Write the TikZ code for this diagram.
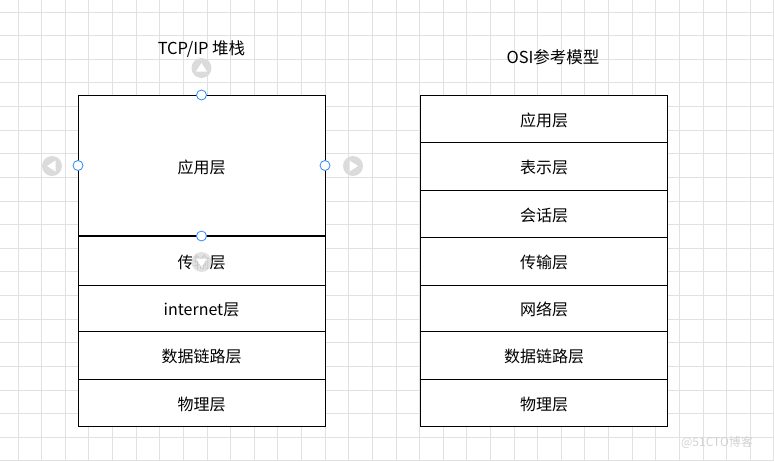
\documentclass[tikz,border=0pt]{standalone}
\usepackage{fontspec}
\setmainfont{Noto Sans CJK SC}
\usetikzlibrary{positioning, calc}
\definecolor{HandleBlue}{RGB}{41,137,255}
\definecolor{GridGray}{RGB}{225,225,225}

\begin{document}
\begin{tikzpicture}[x=1pt, y=-1pt,
	layer/.style={draw, fill=white, line width=0.9pt, minimum width=247pt, inner sep=0pt,
		outer sep=0pt, text height=15pt, text depth=0pt, font=\fontsize{16}{18}\selectfont},
	title/.style={font=\fontsize{16.5}{18}\selectfont},
	handle/.style={circle, draw=HandleBlue, fill=white, line width=0.8pt,
		minimum size=10pt, inner sep=0pt},
	hint/.style={circle, fill=gray!28, minimum size=20pt, inner sep=0pt}
	]
	\useasboundingbox (0,0) rectangle (774,461);
	
	% 背景网格
	\begin{scope}
		\clip (0,0) rectangle (774,461);
		\foreach \i in {0,...,32}
			\draw[GridGray, line width=0.8pt] ({18+23.62*\i},0) -- ({18+23.62*\i},461);
		\foreach \j in {0,...,19}
			\draw[GridGray, line width=0.8pt] (0,{12+23.62*\j}) -- (774,{12+23.62*\j});
	\end{scope}
	
	% TCP/IP 堆栈
	\node[title] (tcpTitle) at (201.5,49.5) {TCP/IP 堆栈};
	\node[layer, minimum height=141pt] (tcpApp) at (201.5,165.5) {应用层};
	\node[layer, minimum height=49pt, below=0pt of tcpApp] (tcpTrans) {传输层};
	\node[layer, minimum height=46pt, below=0pt of tcpTrans] (tcpNet) {internet层};
	\node[layer, minimum height=48pt, below=0pt of tcpNet] (tcpLink) {数据链路层};
	\node[layer, minimum height=47pt, below=0pt of tcpLink] (tcpPhy) {物理层};
	\draw[line width=2pt] (tcpApp.south west) -- (tcpApp.south east);
	
	% 选中状态的控制点
	\node[hint] (hintUp) at (201.5,68) {};
	\fill[white] ($(hintUp)+(0,-5)$) -- ++(5.5,8.5) -- ++(-11,0) -- cycle;
	\node[hint] (hintLeft) at (52,166) {};
	\fill[white] ($(hintLeft)+(-5,0)$) -- ++(8.5,-5.5) -- ++(0,11) -- cycle;
	\node[hint] (hintRight) at (353,166) {};
	\fill[white] ($(hintRight)+(5,0)$) -- ++(-8.5,-5.5) -- ++(0,11) -- cycle;
	\node[hint, fill=gray!25, opacity=0.9] (hintDown) at (201.5,262) {};
	\fill[white] ($(hintDown)+(0,5)$) -- ++(5.5,-8.5) -- ++(-11,0) -- cycle;
	\node[handle] at (tcpApp.north) {};
	\node[handle] at (tcpApp.west) {};
	\node[handle] at (tcpApp.east) {};
	\node[handle] at (tcpApp.south) {};
	
	% OSI参考模型
	\node[title] (osiTitle) at (553,57.5) {OSI参考模型};
	\node[layer, minimum height=47pt] (osiApp) at (544,118.5) {应用层};
	\node[layer, minimum height=48pt, below=0pt of osiApp] (osiPres) {表示层};
	\node[layer, minimum height=47pt, below=0pt of osiPres] (osiSess) {会话层};
	\node[layer, minimum height=48pt, below=0pt of osiSess] (osiTrans) {传输层};
	\node[layer, minimum height=46pt, below=0pt of osiTrans] (osiNet) {网络层};
	\node[layer, minimum height=48pt, below=0pt of osiNet] (osiLink) {数据链路层};
	\node[layer, minimum height=47pt, below=0pt of osiLink] (osiPhy) {物理层};
	
	% 水印
	\node[text=gray!35, font=\fontsize{12}{13}\selectfont] (mark) at (717,442) {@51CTO博客};
\end{tikzpicture}
\end{document}
